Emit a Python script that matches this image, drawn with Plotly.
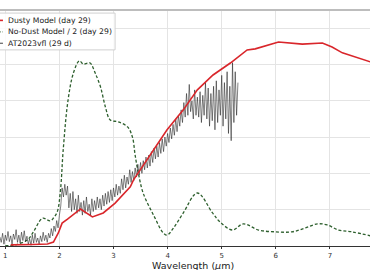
import plotly.graph_objects as go

# Dusty model (day 29)
dusty_x = [1.10, 1.22, 1.50, 1.78, 1.89, 1.98, 2.05, 2.15, 2.39, 2.61, 2.81, 3.03, 3.31, 3.37, 3.68,
           3.99, 4.29, 4.55, 4.84, 5.16, 5.47, 5.62, 6.05, 6.23, 6.49, 6.86, 7.04, 7.23, 7.65, 7.75]
dusty_y = [0.03, 0.03, 0.04, 0.055, 0.11, 0.36, 0.63, 0.74, 1.02, 0.80, 0.91, 1.18, 1.63, 1.82, 2.51,
           3.20, 3.75, 4.30, 4.71, 5.04, 5.40, 5.43, 5.62, 5.59, 5.56, 5.59, 5.48, 5.32, 5.12, 5.07]

# No-dust model / 2 (day 29)
nodust_x = [1.00, 1.18, 1.41, 1.52, 1.65, 1.70, 1.83, 1.89, 1.96, 2.02, 2.07, 2.16, 2.26, 2.37, 2.44,
            2.52, 2.57, 2.66, 2.76, 2.85, 2.94, 3.09, 3.26, 3.35, 3.40, 3.46, 3.55, 3.74, 3.92, 3.99,
            4.11, 4.29, 4.55, 4.83, 4.97, 5.20, 5.40, 5.68, 5.99, 6.30, 6.55, 6.77, 6.95, 7.16, 7.41, 7.75]
nodust_y = [0.01, 0.03, 0.17, 0.39, 0.72, 0.77, 0.69, 0.77, 0.94, 1.54, 2.64, 4.02, 4.77, 5.10, 5.01,
            5.04, 5.04, 4.77, 4.38, 3.83, 3.47, 3.42, 3.28, 3.00, 2.50, 2.00, 1.45, 0.85, 0.36, 0.30,
            0.50, 0.91, 1.46, 0.91, 0.66, 0.44, 0.61, 0.44, 0.39, 0.39, 0.50, 0.61, 0.58, 0.44, 0.39, 0.28]

# AT2023vfl (29 d) observed spectrum, sampled every 0.025 um from 0.90 um
obs_x0 = 0.90
obs_dx = 0.025
obs_y = [
    0.25, 0.10, 0.35, 0.05, 0.30, 0.15, 0.40, 0.12, 0.28, 0.05,
    0.33, 0.18, 0.45, 0.10, 0.30, 0.08, 0.38, 0.15, 0.42, 0.12,
    0.27, 0.05, 0.20, 0.02, 0.30, 0.08, 0.35, 0.10, 0.22, 0.04,
    0.28, 0.12, 0.38, 0.15, 0.30, 0.10, 0.35, 0.22, 0.48, 0.28,
    0.55, 0.40, 0.70, 0.50, 0.85, 1.10, 1.60, 1.35, 1.70, 1.40,
    1.65, 1.05, 1.45, 0.95, 1.50, 1.00, 1.30, 0.90, 1.40, 0.95,
    1.20, 0.85, 1.25, 0.90, 1.35, 0.95, 1.15, 0.85, 1.30, 0.95,
    1.25, 1.00, 1.35, 1.05, 1.30, 1.00, 1.40, 1.10, 1.45, 1.15,
    1.50, 1.20, 1.55, 1.25, 1.60, 1.35, 1.70, 1.40, 1.65, 1.45,
    1.85, 1.55, 1.95, 1.60, 1.90, 1.70, 2.10, 1.75, 2.05, 1.80,
    2.15, 1.90, 2.25, 1.95, 2.30, 2.00, 2.35, 2.10, 2.45, 2.15,
    2.50, 2.20, 2.60, 2.30, 2.70, 2.40, 2.75, 2.45, 2.85, 2.55,
    2.95, 2.60, 3.00, 2.75, 3.10, 2.85, 3.25, 2.95, 3.35, 3.05,
    3.50, 3.15, 3.60, 3.30, 3.75, 3.40, 3.95, 3.55, 4.20, 3.60,
    4.45, 3.70, 4.00, 3.50, 4.30, 3.60, 4.10, 3.55, 4.25, 3.40,
    4.15, 3.60, 4.50, 3.50, 4.35, 3.30, 4.20, 3.45, 4.40, 3.20,
    4.55, 3.40, 4.30, 3.60, 4.70, 3.30, 4.50, 3.50, 4.80, 3.10,
    4.40, 2.90, 5.05, 3.40, 4.80, 3.60, 4.50,
]
obs_x = [obs_x0 + obs_dx * i for i in range(len(obs_y))]

x_ticks = [1, 2, 3, 4, 5, 6, 7]
legend_labels = ["Dusty Model (day 29)", "No-Dust Model / 2 (day 29)", "AT2023vfl (29 d)"]

RED = "#d9262b"
GREEN = "rgb(45,95,45)"
OBS = "rgba(30,30,30,0.7)"
FONT = "DejaVu Sans"

fig = go.Figure()
fig.add_trace(go.Scatter(x=nodust_x, y=nodust_y, mode="lines", line_shape="spline",
                         line=dict(color=GREEN, width=1.3, dash="3px,2px"), showlegend=False))
fig.add_trace(go.Scatter(x=obs_x, y=obs_y, mode="lines",
                         line=dict(color=OBS, width=0.8), showlegend=False))
fig.add_trace(go.Scatter(x=dusty_x, y=dusty_y, mode="lines",
                         line=dict(color=RED, width=1.6), showlegend=False))

fig.update_xaxes(range=[0.902, 7.741], tickvals=x_ticks, ticktext=[str(t) for t in x_ticks],
                 showgrid=True, gridcolor="#e4e4e4", gridwidth=1, zeroline=False,
                 showline=True, linecolor="#333333", linewidth=1.3,
                 ticks="outside", ticklen=2, tickcolor="#333333", tickwidth=1,
                 tickfont=dict(family=FONT, size=7, color="#333333"))
fig.update_yaxes(range=[0, 6.5], dtick=1, showgrid=True, gridcolor="#e4e4e4", gridwidth=1,
                 zeroline=False, showticklabels=False, showline=False, ticks="")

shapes = [
    dict(type="line", xref="paper", yref="paper", x0=0, x1=1, y0=1, y1=1,
         line=dict(color="#bdbdbd", width=2)),
    dict(type="rect", xref="paper", yref="paper", x0=-0.03, x1=0.311, y0=0.831, y1=0.987,
         fillcolor="rgba(255,255,255,0.85)", line=dict(color="#d0d0d0", width=1)),
]
row_y = [0.956, 0.907, 0.859]
row_style = [dict(color=RED, width=1.6), dict(color=GREEN, width=1.3, dash="3px,2px"),
             dict(color=OBS, width=1.2)]
annotations = []
for label, yy, st in zip(legend_labels, row_y, row_style):
    shapes.append(dict(type="line", xref="paper", yref="paper", x0=-0.02, x1=0.008,
                       y0=yy, y1=yy, line=st))
    annotations.append(dict(text=label, xref="paper", yref="paper", x=0.017, y=yy,
                            xanchor="left", yanchor="middle", showarrow=False,
                            font=dict(family=FONT, size=7.7, color="#222222")))
annotations.append(dict(text="Wavelength (<i>μ</i>m)", xref="paper", yref="paper",
                        x=0.522, y=-0.083, xanchor="center", yanchor="middle", showarrow=False,
                        font=dict(family=FONT, size=9.5, color="#222222")))

fig.update_layout(width=370, height=270, margin=dict(l=0, r=0, t=10, b=24, autoexpand=False),
                  paper_bgcolor="white", plot_bgcolor="white",
                  shapes=shapes, annotations=annotations, showlegend=False)

fig.write_html("out.html")
